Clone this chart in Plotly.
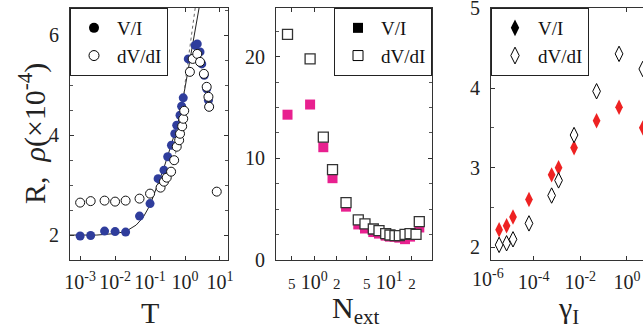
import plotly.graph_objects as go

W, H = 643, 331
SERIF = "Liberation Serif"

# ---------------- Panel 1 data ----------------
T_vi = [0.001, 0.002, 0.005, 0.01, 0.02, 0.05, 0.1, 0.17, 0.25, 0.32, 0.41, 0.51, 0.58,
        0.72, 0.80, 0.89, 1.24, 1.95, 2.24, 2.69, 3.02, 3.55, 4.17, 4.68, 4.9]
R_vi = [1.98, 1.99, 2.08, 2.07, 2.06, 2.38, 2.63, 3.13, 3.30, 3.57, 3.80, 4.03, 4.20,
        4.40, 4.58, 4.75, 5.53, 5.80, 5.83, 5.67, 5.43, 5.20, 4.93, 4.70, 4.57]
T_dv = [0.001, 0.002, 0.005, 0.01, 0.02, 0.05, 0.1, 0.20, 0.25, 0.30, 0.40, 0.49, 0.58,
        0.68, 0.72, 0.83, 0.89, 0.95, 1.38, 1.66, 2.24, 2.69, 3.47, 4.17, 4.68, 4.9, 8.1]
R_dv = [2.65, 2.68, 2.69, 2.67, 2.69, 2.73, 2.83, 2.95, 3.07, 3.15, 3.27, 3.50, 3.77,
        3.90, 4.03, 4.18, 4.33, 4.49, 5.27, 5.53, 5.63, 5.47, 5.23, 4.97, 4.77, 4.57, 2.87]
# fit curves
T_fit = [0.00051, 0.003, 0.01, 0.02, 0.04, 0.063, 0.1, 0.16, 0.25, 0.4, 0.63, 0.89, 1.3, 1.95, 2.6]
R_fit = [2.0, 2.0, 2.03, 2.07, 2.2, 2.35, 2.6, 3.0, 3.35, 3.8, 4.25, 4.75, 5.4, 6.04, 6.6]
T_dot = [0.45, 0.63, 0.8, 1.0, 1.4, 2.0]
R_dot = [3.4, 3.85, 4.35, 5.03, 5.8, 6.6]

# ---------------- Panel 2 data ----------------
N_ext = [0.44, 0.88, 1.32, 1.75, 2.65, 3.86, 4.74, 6.12, 7.29, 8.95, 10.2, 11.9, 13.6,
         16.2, 18.9, 22.7, 25.1]
R2_vi = [14.3, 15.3, 11.1, 8.05, 5.25, 3.5, 3.1, 2.75, 2.6, 2.4, 2.3, 2.3, 2.2,
         2.05, 2.3, 2.5, 3.2]
R2_dv = [22.2, 19.8, 12.1, 8.9, 5.65, 3.94, 3.55, 3.05, 2.9, 2.6, 2.46, 2.4, 2.4,
         2.53, 2.6, 2.53, 3.77]

# ---------------- Panel 3 data ----------------
gamma_I = [3.3e-6, 6.9e-6, 1.3e-5, 6.3e-5, 5.9e-4, 1.17e-3, 5.4e-3, 5.0e-2, 4.6e-1, 4.8]
R3_vi = [2.22, 2.27, 2.38, 2.60, 2.91, 3.00, 3.25, 3.59, 3.76, 3.50]
R3_dv = [2.03, 2.05, 2.10, 2.30, 2.65, 2.84, 3.41, 3.96, 4.43, 4.24]

# tick labels
t1_vals = [1e-3, 1e-2, 1e-1, 1e0, 1e1]
t1_text = ["10<sup>-3</sup>", "10<sup>-2</sup>", "10<sup>-1</sup>", "10<sup>0</sup>", "10<sup>1</sup>"]
t2_vals = [0.5, 1, 2, 5, 10, 20]
small = "<span style='font-size:15px'>{}</span>"
t2_text = [small.format("5"), "10<sup>0</sup>", small.format("2"),
           small.format("5"), "10<sup>1</sup>", small.format("2")]
t3_vals = [1e-4, 1e-2, 1e0]
t3_text = ["10<sup>-4</sup>", "10<sup>-2</sup>", "10<sup>0</sup>"]
t3_edge_label = "10<sup>-6</sup>"   # tick sits just outside the clipped axis range

BLUE = "#2f3d9c"
MAGENTA = "#e8208f"
RED = "#ee2222"

fig = go.Figure()

# panel 1
fig.add_trace(go.Scatter(x=T_fit, y=R_fit, mode="lines", line=dict(color="#222", width=1),
                         showlegend=False, xaxis="x", yaxis="y", hoverinfo="skip"))
fig.add_trace(go.Scatter(x=T_dot, y=R_dot, mode="lines", line=dict(color="#666", width=1, dash="dot"),
                         showlegend=False, xaxis="x", yaxis="y", hoverinfo="skip"))
fig.add_trace(go.Scatter(x=T_vi, y=R_vi, mode="markers",
                         marker=dict(symbol="circle", size=9, color=BLUE, line=dict(width=0)),
                         showlegend=False, xaxis="x", yaxis="y"))
fig.add_trace(go.Scatter(x=T_dv, y=R_dv, mode="markers",
                         marker=dict(symbol="circle", size=9, color="white", line=dict(color="#111", width=1)),
                         showlegend=False, xaxis="x", yaxis="y"))
fig.add_trace(go.Scatter(x=[None], y=[None], mode="markers", name="V/I",
                         marker=dict(symbol="circle", size=10, color="black"), legend="legend"))
fig.add_trace(go.Scatter(x=[None], y=[None], mode="markers", name="dV/dI",
                         marker=dict(symbol="circle", size=10, color="white", line=dict(color="black", width=1)),
                         legend="legend"))

# panel 2
fig.add_trace(go.Scatter(x=N_ext, y=R2_vi, mode="markers",
                         marker=dict(symbol="square", size=10, color=MAGENTA, line=dict(width=0)),
                         showlegend=False, xaxis="x2", yaxis="y2"))
fig.add_trace(go.Scatter(x=N_ext, y=R2_dv, mode="markers",
                         marker=dict(symbol="square", size=10, color="white", line=dict(color="#333", width=1.3)),
                         showlegend=False, xaxis="x2", yaxis="y2"))
fig.add_trace(go.Scatter(x=[None], y=[None], mode="markers", name="V/I",
                         marker=dict(symbol="square", size=10, color="black"), legend="legend2"))
fig.add_trace(go.Scatter(x=[None], y=[None], mode="markers", name="dV/dI",
                         marker=dict(symbol="square", size=10, color="white", line=dict(color="black", width=1)),
                         legend="legend2"))

# panel 3
fig.add_trace(go.Scatter(x=gamma_I, y=R3_vi, mode="markers",
                         marker=dict(symbol="diamond-tall", size=11, color=RED, line=dict(width=0)),
                         showlegend=False, xaxis="x3", yaxis="y3"))
fig.add_trace(go.Scatter(x=gamma_I, y=R3_dv, mode="markers",
                         marker=dict(symbol="diamond-tall", size=11, color="white", line=dict(color="black", width=1)),
                         showlegend=False, xaxis="x3", yaxis="y3"))
fig.add_trace(go.Scatter(x=[None], y=[None], mode="markers", name="V/I",
                         marker=dict(symbol="diamond-tall", size=12, color="black"), legend="legend3"))
fig.add_trace(go.Scatter(x=[None], y=[None], mode="markers", name="dV/dI",
                         marker=dict(symbol="diamond-tall", size=12, color="white", line=dict(color="black", width=1)),
                         legend="legend3"))

ytop = 1 - 8 / H
ybot = 1 - 260 / H
tickfont = dict(family=SERIF, size=20, color="#222")

def xax(domain, rng, vals, text, anchor, mirror="ticks"):
    return dict(type="log", domain=domain, range=rng, tickvals=vals, ticktext=text,
                ticks="inside", ticklen=4, tickcolor="#333", showline=True, linecolor="#333",
                linewidth=1, mirror=mirror, showgrid=False, zeroline=False, anchor=anchor,
                tickfont=tickfont, automargin=False, ticklabelstandoff=4,
                ticklabeloverflow="allow")

def yax(rng, vals, anchor, minor_dt, mirror="ticks"):
    return dict(domain=[ybot, ytop], range=rng, tickvals=vals, ticks="inside", ticklen=4,
                tickcolor="#333", showline=True, linecolor="#333", linewidth=1, mirror=mirror,
                showgrid=False, zeroline=False, anchor=anchor, tickfont=tickfont,
                automargin=False, ticklabelstandoff=6, ticklabeloverflow="allow",
                minor=dict(dtick=minor_dt, ticks="inside", ticklen=3, tickcolor="#555", showgrid=False))

legfont = dict(family=SERIF, size=19, color="#111")
legcommon = dict(bordercolor="#222", borderwidth=1, bgcolor="white", font=legfont,
                 yanchor="top", y=ytop, itemwidth=36, tracegroupgap=0)

fig.update_layout(
    width=W, height=H, margin=dict(l=0, r=0, t=0, b=0),
    paper_bgcolor="white", plot_bgcolor="white",
    xaxis=xax([70 / W, 228 / W], [-3.29, 1.23], t1_vals, t1_text, "y"),
    yaxis=yax([1.5, 6.55], [2, 4, 6], "x", 0.5),
    xaxis2=xax([276 / W, 432 / W], [-0.51, 1.569], t2_vals, t2_text, "y2"),
    yaxis2=yax([0, 24.8], [0, 10, 20], "x2", 2.5),
    xaxis3=xax([491 / W, 1.0], [-5.83, 0.69], t3_vals, t3_text, "y3"),
    yaxis3=yax([1.84, 5.006], [2, 3, 4, 5], "x3", 0.5, mirror=False),
    legend=dict(x=70 / W, xanchor="left", **legcommon),
    legend2=dict(x=432 / W, xanchor="right", **legcommon),
    legend3=dict(x=491 / W, xanchor="left", **legcommon),
    annotations=[
        dict(text="R,  <i>ρ</i>(×10<sup>-4</sup>)", x=32 / W, y=1 - 134 / H, xref="paper", yref="paper",
             textangle=-90, showarrow=False, font=dict(family=SERIF, size=30, color="#222"),
             xanchor="center", yanchor="middle"),
        dict(text="T", x=150 / W, y=1 - 312 / H, xref="paper", yref="paper", showarrow=False,
             font=dict(family=SERIF, size=30, color="#222"), xanchor="center", yanchor="middle"),
        dict(text="N<sub>ext</sub>", x=355 / W, y=1 - 310 / H, xref="paper", yref="paper", showarrow=False,
             font=dict(family=SERIF, size=30, color="#222"), xanchor="center", yanchor="middle"),
        dict(text="γ<sub>I</sub>", x=568 / W, y=1 - 310 / H, xref="paper", yref="paper", showarrow=False,
             font=dict(family=SERIF, size=30, color="#222"), xanchor="center", yanchor="middle"),
        dict(text=t3_edge_label, x=488 / W, y=1 - 278 / H, xref="paper", yref="paper", showarrow=False,
             font=tickfont, xanchor="center", yanchor="middle"),
    ],
)

fig.write_html("out.html")
